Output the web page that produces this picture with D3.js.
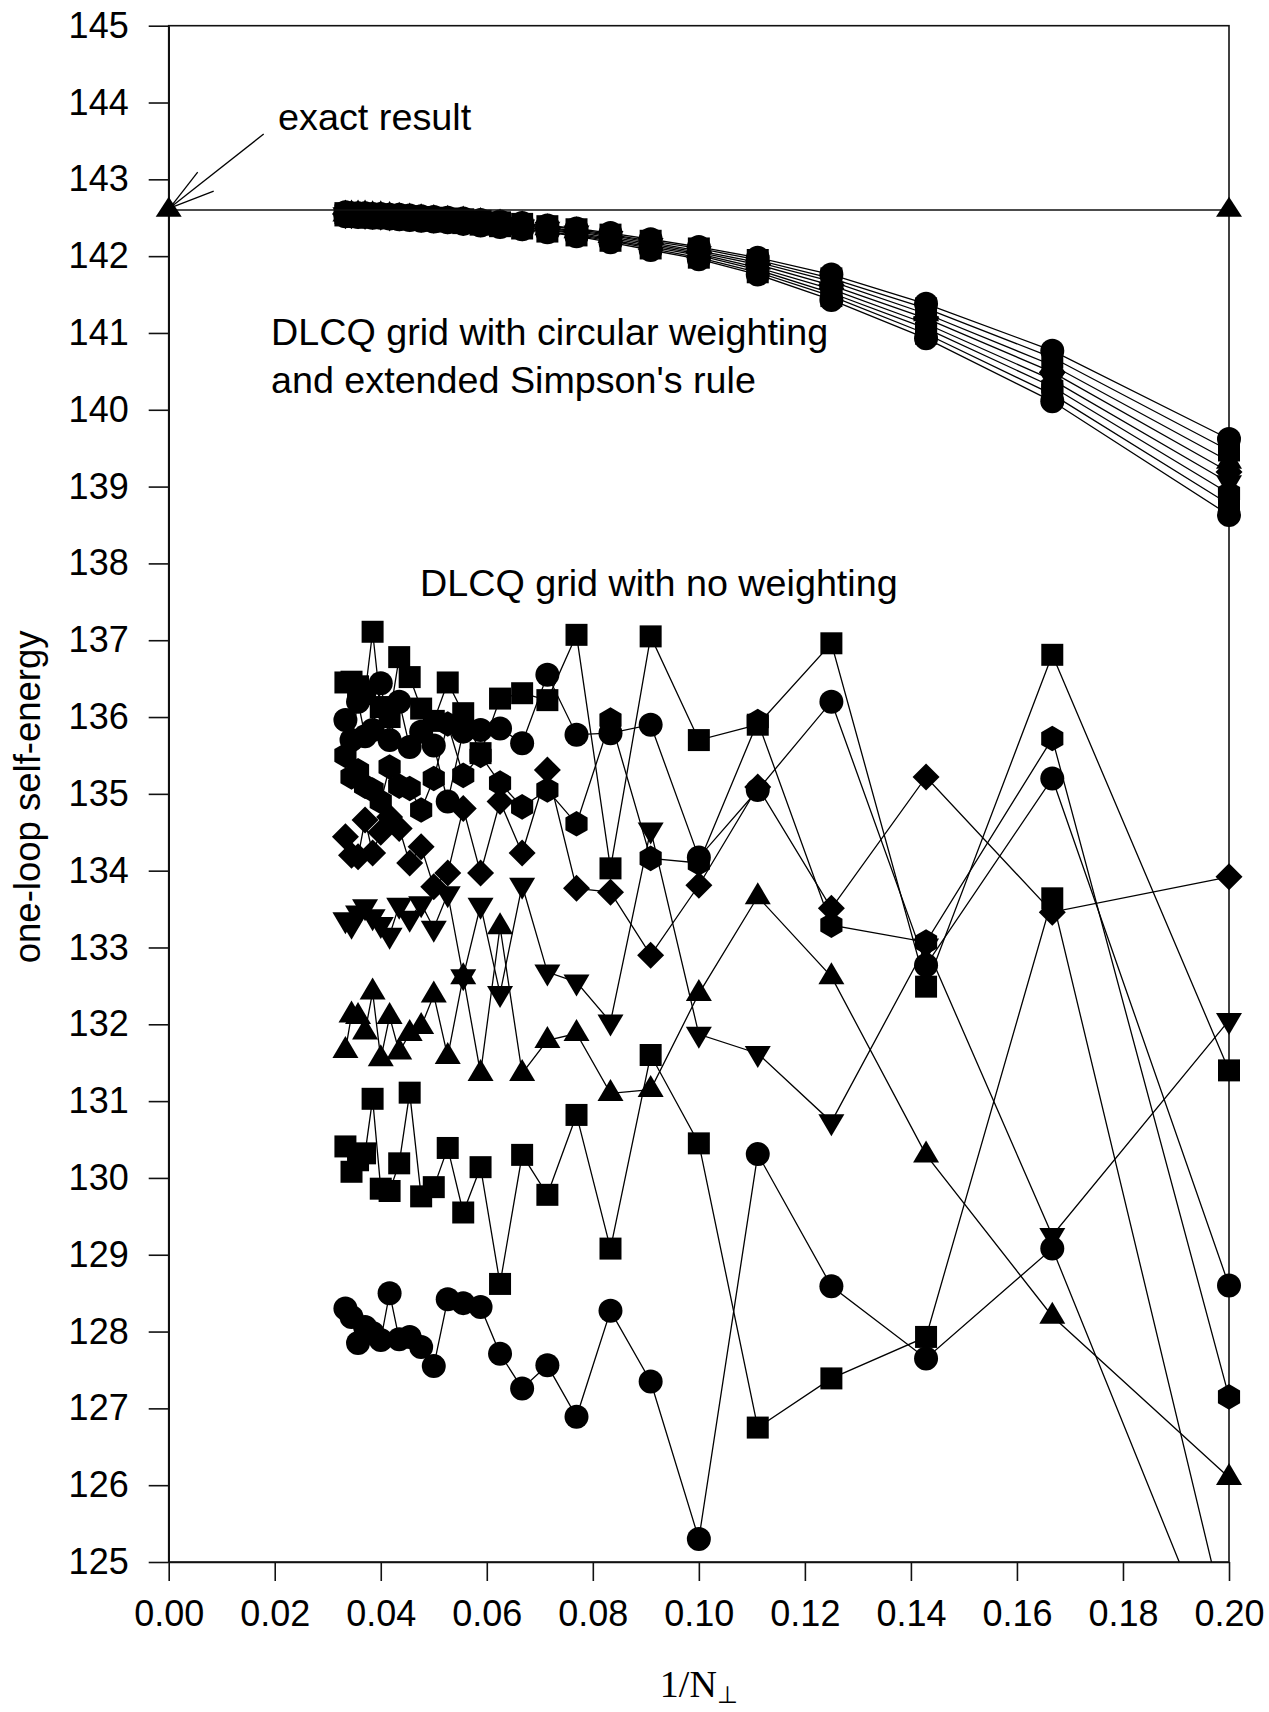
<!DOCTYPE html>
<html><head><meta charset="utf-8">
<script src="https://cdn.jsdelivr.net/npm/d3@7"></script>
<style>body{margin:0;background:#fff}svg{display:block}</style>
</head><body>
<svg id="chart" width="1269" height="1712"></svg>
<script>
// ---------------- DATA ----------------
const N = [30,29,28,27,26,25,24,23,22,21,20,19,18,17,16,15,14,13,12,11,10,9,8,7,6,5];
const xTickValues = [0,0.02,0.04,0.06,0.08,0.10,0.12,0.14,0.16,0.18,0.20];
const yTickValues = [125,126,127,128,129,130,131,132,133,134,135,136,137,138,139,140,141,142,143,144,145];
const exactValue = 142.6;
const exactX = [0, 0.2];

// DLCQ grid with circular weighting and extended Simpson's rule (values for N = 30 ... 5)
const circA  = [142.57,142.56,142.56,142.56,142.55,142.55,142.54,142.54,142.53,142.52,142.51,142.50,142.49,142.47,142.45,142.43,142.40,142.36,142.30,142.22,142.12,141.98,141.76,141.38,140.77,139.62];
const circB  = [142.56,142.55,142.55,142.55,142.54,142.54,142.53,142.53,142.52,142.51,142.50,142.49,142.48,142.46,142.44,142.42,142.39,142.35,142.28,142.20,142.10,141.95,141.71,141.32,140.68,139.47];
const circC  = [142.55,142.55,142.55,142.55,142.54,142.54,142.53,142.52,142.51,142.50,142.49,142.48,142.47,142.45,142.43,142.41,142.37,142.33,142.27,142.18,142.07,141.92,141.67,141.25,140.58,139.33];
const circD  = [142.55,142.54,142.54,142.54,142.53,142.53,142.52,142.51,142.50,142.49,142.48,142.47,142.46,142.44,142.42,142.40,142.36,142.32,142.25,142.16,142.05,141.89,141.62,141.19,140.49,139.19];
const circE  = [142.54,142.54,142.54,142.53,142.53,142.52,142.51,142.51,142.50,142.49,142.48,142.47,142.45,142.43,142.41,142.38,142.35,142.30,142.23,142.14,142.03,141.85,141.57,141.12,140.39,139.05];
const circF  = [142.54,142.53,142.53,142.53,142.52,142.52,142.51,142.50,142.49,142.48,142.47,142.46,142.44,142.42,142.40,142.37,142.34,142.29,142.21,142.12,142.01,141.82,141.52,141.06,140.30,138.91];
const circG  = [142.53,142.53,142.52,142.52,142.51,142.51,142.50,142.49,142.48,142.47,142.46,142.45,142.43,142.41,142.39,142.36,142.32,142.27,142.20,142.10,141.98,141.79,141.48,140.99,140.20,138.77];
const circH  = [142.52,142.52,142.51,142.51,142.50,142.50,142.49,142.48,142.47,142.46,142.45,142.44,142.42,142.40,142.38,142.35,142.31,142.26,142.18,142.08,141.96,141.76,141.43,140.93,140.11,138.63];

// DLCQ grid with no weighting (values for N = 30 ... 5)
const noCircleLow  = [128.30,128.19,127.85,128.06,127.98,127.89,128.50,127.90,127.93,127.80,127.55,128.42,128.37,128.32,127.71,127.26,127.56,126.89,128.27,127.35,125.30,130.31,128.59,127.65,129.08,123.40];
const noSquareLow  = [130.41,130.08,130.23,130.32,131.03,129.86,129.83,130.19,131.11,129.76,129.88,130.39,129.55,130.14,128.62,130.30,129.78,130.82,129.08,131.60,130.45,126.75,127.39,127.93,133.64,124.05];
const noTriUp      = [131.66,132.12,132.10,131.90,132.42,131.55,132.10,131.64,131.88,131.97,132.38,131.58,132.62,131.36,133.27,131.36,131.79,131.88,131.10,131.15,132.40,133.66,132.62,130.30,128.20,126.10];
const noTriDown    = [133.36,133.29,133.45,133.53,133.40,133.30,133.16,133.55,133.38,133.57,133.25,133.70,132.62,133.55,132.40,133.81,132.68,132.55,132.03,134.53,131.87,131.62,130.73,133.02,129.25,132.05];
const noDiamond    = [134.44,134.20,134.18,134.66,134.23,134.50,134.70,134.55,134.10,134.31,133.79,133.97,134.81,133.97,134.90,134.23,135.31,133.77,133.72,132.90,133.81,135.09,133.51,135.22,133.46,133.92];
const noHexagon    = [135.50,135.22,135.30,135.10,135.05,134.90,135.35,135.10,135.07,134.79,135.20,135.91,135.24,135.50,135.14,134.83,135.05,134.61,135.96,134.16,134.10,135.94,133.29,133.07,135.72,127.15];
const noCircleHigh = [135.96,135.70,136.20,135.75,135.83,136.44,135.70,136.20,135.61,135.81,135.63,134.90,135.81,135.83,135.85,135.66,136.55,135.77,135.79,135.90,134.17,135.05,136.20,132.77,135.20,128.60];
const noSquareHigh = [136.45,136.46,136.40,136.30,137.11,136.13,136.00,136.78,136.52,136.11,135.95,136.45,136.05,135.53,136.24,136.31,136.22,137.07,134.03,137.05,135.70,135.90,136.96,132.49,136.81,131.40];

// ---------------- STYLE / LAYOUT ----------------
const series = [
  {v: circA, m: "circle"}, {v: circB, m: "square"}, {v: circC, m: "triUp"}, {v: circD, m: "diamond"},
  {v: circE, m: "triDown"}, {v: circF, m: "hexagon"}, {v: circG, m: "square"}, {v: circH, m: "circle"},
  {v: noCircleLow, m: "circle"}, {v: noSquareLow, m: "square"}, {v: noTriUp, m: "triUp"}, {v: noTriDown, m: "triDown"},
  {v: noDiamond, m: "diamond"}, {v: noHexagon, m: "hexagon"}, {v: noCircleHigh, m: "circle"}, {v: noSquareHigh, m: "square"}
];

const L = 168.7, R = 1229, T = 25.7, B = 1562;
const x = d3.scaleLinear().domain([0, 0.2]).range([L, R]);
const y = d3.scaleLinear().domain([125, 145]).range([B, T]);

const shapes = {
  circle: "M12,0A12,12 0 1,1 -12,0A12,12 0 1,1 12,0Z",
  square: "M-11,-11H11V11H-11Z",
  triUp: "M0,-14.5L13,7.5L-13,7.5Z",
  triDown: "M0,14.5L13,-7.5L-13,-7.5Z",
  diamond: "M0,-13.5L13.5,0L0,13.5L-13.5,0Z",
  hexagon: (() => { const r = 12.8; return "M" + d3.range(6).map(i => { const a = -Math.PI/2 + i*Math.PI/3; return [r*Math.cos(a), r*Math.sin(a)].join(","); }).join("L") + "Z"; })()
};
const exactTri = "M0,-13.3L13,6.7L-13,6.7Z";

const svg = d3.select("#chart");
const font = "'Liberation Sans', Arial, Helvetica, sans-serif";

svg.append("defs").append("clipPath").attr("id", "clip")
  .append("rect").attr("x", 0).attr("y", 0).attr("width", 1269).attr("height", B);

// frame
svg.append("rect").attr("x", L).attr("y", T).attr("width", R - L).attr("height", B - T)
  .attr("fill", "none").attr("stroke", "#111").attr("stroke-width", 1.6);

// axes
const yAxis = d3.axisLeft(y).tickValues(yTickValues).tickSize(20).tickSizeOuter(0).tickPadding(20).tickFormat(d3.format("d"));
const gy = svg.append("g").attr("transform", `translate(${L},0)`).call(yAxis);
const xAxis = d3.axisBottom(x).tickValues(xTickValues).tickSize(19).tickSizeOuter(0).tickPadding(19).tickFormat(d3.format(".2f"));
const gx = svg.append("g").attr("transform", `translate(0,${B})`).call(xAxis);
[gx, gy].forEach(g => {
  g.select(".domain").attr("stroke", "#111").attr("stroke-width", 1.6);
  g.selectAll(".tick line").attr("stroke", "#111").attr("stroke-width", 1.6);
  g.selectAll(".tick text").attr("fill", "#000").style("font-family", font).style("font-size", "36px");
});

// data
const gd = svg.append("g").attr("clip-path", "url(#clip)");
const line = d3.line().x(d => x(1 / d.n)).y(d => y(d.v));
series.forEach(s => {
  const pts = N.map((n, i) => ({n, v: s.v[i]}));
  gd.append("path").attr("d", line(pts)).attr("fill", "none").attr("stroke", "#000").attr("stroke-width", 1.3);
  gd.selectAll(null).data(pts).enter().append("path")
    .attr("d", shapes[s.m])
    .attr("transform", d => `translate(${x(1 / d.n)},${y(d.v)})`)
    .attr("fill", "#000");
});

// exact result
svg.append("line").attr("x1", x(exactX[0])).attr("x2", x(exactX[1]))
  .attr("y1", y(exactValue)).attr("y2", y(exactValue)).attr("stroke", "#111").attr("stroke-width", 1.6);
exactX.forEach(v => svg.append("path").attr("d", exactTri)
  .attr("transform", `translate(${x(v)},${y(exactValue)})`).attr("fill", "#000"));

// arrow annotation
const tipX = x(0) + 1, tipY = y(exactValue) - 2;
const arrow = svg.append("g").attr("stroke", "#000").attr("stroke-width", 1.3);
arrow.append("line").attr("x1", tipX).attr("y1", tipY).attr("x2", tipX + 94).attr("y2", tipY - 74);
arrow.append("line").attr("x1", tipX).attr("y1", tipY).attr("x2", tipX + 28).attr("y2", tipY - 36);
arrow.append("line").attr("x1", tipX).attr("y1", tipY).attr("x2", tipX + 44).attr("y2", tipY - 17);

// texts
const txt = (s, px, py, size) => svg.append("text").attr("x", px).attr("y", py)
  .style("font-family", font).style("font-size", size + "px").attr("fill", "#000").text(s);
txt("exact result", 278, 130, 37.8);
txt("DLCQ grid with circular weighting", 271, 345, 37.7);
txt("and extended Simpson's rule", 271, 393, 37.7);
txt("DLCQ grid with no weighting", 420, 596, 37.7);

svg.append("text").attr("transform", `translate(40,${(T + B) / 2 + 3}) rotate(-90)`)
  .attr("text-anchor", "middle").style("font-family", font).style("font-size", "36.5px").attr("fill", "#000")
  .text("one-loop self-energy");

const xl = svg.append("text").attr("x", (L + R) / 2).attr("y", 1697).attr("text-anchor", "middle")
  .style("font-family", "'Liberation Serif', 'Times New Roman', serif").style("font-size", "38px").attr("fill", "#000");
xl.append("tspan").text("1/N");
xl.append("tspan").attr("dy", 6).style("font-size", "24px").text("\u22A5");
</script>
</body></html>
